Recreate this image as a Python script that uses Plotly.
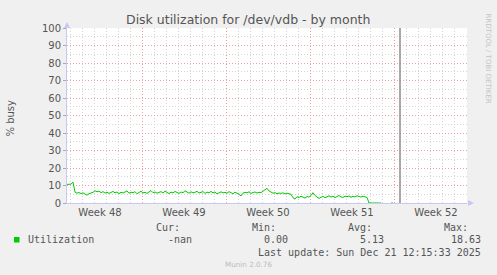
import plotly.graph_objects as go
import pandas as pd

# ---------------- data ----------------
chart_title = "Disk utilization for /dev/vdb - by month"
y_title = "% busy"
series_name = "Utilization"
start_time = "2025-11-24 18:00"
step = "4h"
x_range = ["2025-11-24 18:00", "2025-12-28 02:00"]
vrule_time = "2025-12-22 12:00"
week_tick0 = "2025-12-01"

util_pct = [
    10.6, 10.9, 10.8, 11.9, 6.2, 5.6, 6.0, 5.4, 5.8, 5.1,
    4.5, 5.3, 5.6, 6.1, 7.0, 6.4, 6.8,
    5.9, 6.5, 5.7, 6.2, 5.5, 6.0, 6.6, 5.8, 6.3, 5.4,
    6.1, 5.7, 6.4, 6.9, 5.6, 6.2, 5.9, 6.5, 5.3, 6.0,
    6.7, 5.8, 6.1, 5.5, 6.4, 7.1, 5.9, 6.3, 5.6, 6.0,
    6.5, 5.7, 6.8, 6.1, 5.4, 6.2, 5.8, 6.6, 6.0, 5.5,
    6.3, 5.9, 7.0, 6.2, 5.6, 6.4, 5.8, 6.1, 6.7, 5.7,
    6.0, 6.5, 5.5, 6.2, 5.9, 6.6, 5.8, 6.3, 5.2, 6.0,
    6.4, 5.8, 6.1, 5.6, 6.5, 5.9, 5.3, 6.2, 5.7, 5.0,
    4.0,
    5.6, 6.1, 5.8, 6.4, 5.5, 6.0, 6.3, 5.7, 6.1, 5.9, 6.6, 7.2,
    8.4,
    6.9, 6.0, 5.6, 5.9, 5.3, 5.7, 5.5, 5.8, 5.2, 5.6, 5.4, 5.0,
    3.0, 2.2, 3.6, 3.1, 3.9, 3.3, 2.8, 3.7, 3.4, 4.2,
    5.9,
    4.3, 3.5, 2.6, 3.2, 3.8, 3.0, 3.6, 4.1, 3.4, 3.9,
    3.1, 3.7, 4.3, 3.5, 3.2, 3.9, 3.6, 4.0, 3.3, 3.8,
    3.5, 4.1, 3.7, 3.4, 3.9, 3.6, 3.2,
    0, 0, 0, 0, 0, 0, 0,
    None, None, None, None,
    0, 0,
]

y_major = [0, 10, 20, 30, 40, 50, 60, 70, 80, 90, 100]
y_minor = [5, 15, 25, 35, 45, 55, 65, 75, 85, 95]

legend_heads = ["Cur:", "Min:", "Avg:", "Max:"]
legend_vals = ["-nan", "0.00", "5.13", "18.63"]
last_update = "Last update: Sun Dec 21 12:15:33 2025"
footer = "Munin 2.0.76"
side_text = "RRDTOOL / TOBI OETIKER"

# ---------------- layout geometry ----------------
W, H = 497, 275
L, T, PW, PH = 67, 28, 400, 175


def px(x):
    return (x - L) / PW


def py(y):
    return (T + PH - y) / PH


times = pd.date_range(start_time, periods=len(util_pct), freq=step)
days = pd.date_range("2025-11-25", "2025-12-28", freq="D")
day_minor = [d for d in days if d.weekday() != 0]

fig = go.Figure()
fig.add_trace(go.Scatter(
    x=times, y=util_pct, mode="lines", name=series_name,
    line=dict(color="#00cc00", width=1), connectgaps=False,
    showlegend=False, hoverinfo="skip",
))

MONO = "DejaVu Sans Mono"
SANS = "DejaVu Sans"
TXT = "#555555"
MAJ = "#f0a0a0"
MIN = "#d4d4d4"
AXC = "#c8c8f4"
DASH = "1px,2px"

fig.update_layout(
    width=W, height=H,
    margin=dict(l=L, r=W - L - PW, t=T, b=H - T - PH, pad=0),
    paper_bgcolor="#f0f0f0", plot_bgcolor="#ffffff",
    showlegend=False,
    xaxis=dict(
        type="date", range=x_range, tick0=week_tick0, dtick=7 * 86400000,
        tickformat="Week %V", ticklabelmode="period",
        showgrid=True, gridcolor=MAJ, griddash=DASH, gridwidth=1,
        minor=dict(tickmode="array", tickvals=day_minor, showgrid=True,
                   gridcolor=MIN, griddash=DASH, gridwidth=1),
        ticks="", showline=True, linecolor=AXC, linewidth=1,
        tickfont=dict(family=SANS, size=10, color=TXT),
        zeroline=False, fixedrange=True,
    ),
    yaxis=dict(
        range=[0, 100], tickmode="array", tickvals=y_major,
        showgrid=True, gridcolor=MAJ, griddash=DASH, gridwidth=1,
        minor=dict(tickmode="array", tickvals=y_minor, showgrid=True,
                   gridcolor=MIN, griddash=DASH, gridwidth=1),
        ticks="outside", ticklen=3, tickcolor="#aaaaaa",
        showline=True, linecolor=AXC, linewidth=1,
        tickfont=dict(family=SANS, size=10, color=TXT),
        zeroline=False, fixedrange=True,
    ),
)

# vertical rule
fig.add_shape(type="line", xref="x", yref="paper", x0=vrule_time, x1=vrule_time,
              y0=0, y1=1, line=dict(color="#8c8c8c", width=1.5))

# axis arrows
fig.add_shape(type="path", xref="paper", yref="paper",
              path=f"M {px(64)} {py(28)} L {px(70)} {py(28)} L {px(67)} {py(22)} Z",
              fillcolor=AXC, line=dict(width=0))
fig.add_shape(type="path", xref="paper", yref="paper",
              path=f"M {px(468)} {py(200)} L {px(468)} {py(206)} L {px(474)} {py(203)} Z",
              fillcolor=AXC, line=dict(width=0))

anns = []
anns.append(dict(text=chart_title, x=px(248), y=py(19), xanchor="center", yanchor="middle",
                 font=dict(family=SANS, size=12.5, color=TXT)))
anns.append(dict(text=y_title, x=px(10.5), y=py(118), xanchor="center", yanchor="middle",
                 textangle=-90, font=dict(family=SANS, size=10, color=TXT)))
anns.append(dict(text=side_text, x=px(487.5), y=py(58), xanchor="center", yanchor="middle",
                 textangle=90, font=dict(family=SANS, size=7, color="#c4c4c4")))

head_right = [182, 278, 374, 470]
val_right = [194, 290, 386, 482.5]
for h, xr in zip(legend_heads, head_right):
    anns.append(dict(text=h, x=px(xr), y=py(227.5), xanchor="right", yanchor="middle",
                     font=dict(family=MONO, size=10, color=TXT)))
for v, xr in zip(legend_vals, val_right):
    anns.append(dict(text=v, x=px(xr), y=py(239.7), xanchor="right", yanchor="middle",
                     font=dict(family=MONO, size=10, color=TXT)))
anns.append(dict(text=series_name, x=px(25.5), y=py(239.7), xanchor="left", yanchor="middle",
                 font=dict(family=MONO, size=10, color=TXT)))
anns.append(dict(text=last_update, x=px(482.5), y=py(252), xanchor="right", yanchor="middle",
                 font=dict(family=MONO, size=10, color=TXT)))
anns.append(dict(text=footer, x=px(248), y=py(264), xanchor="center", yanchor="middle",
                 font=dict(family=SANS, size=7.2, color="#bbbbbb")))

for a in anns:
    a.update(xref="paper", yref="paper", showarrow=False)
fig.update_layout(annotations=anns)

fig.add_shape(type="rect", xref="paper", yref="paper",
              x0=px(14), x1=px(19.5), y0=py(242.5), y1=py(237),
              fillcolor="#00cc00", line=dict(width=0))

fig.write_html("out.html")
